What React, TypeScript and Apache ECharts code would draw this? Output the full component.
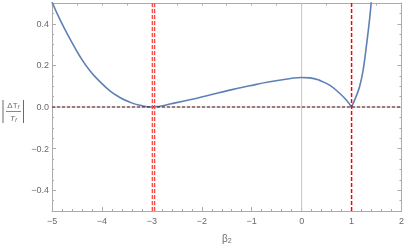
import React, { useEffect, useRef } from "react";
import * as echarts from "echarts";

// β2 sample positions and |ΔT_f / T_f| values
const betaVals = [-5.0, -4.84, -4.64, -4.44, -4.24, -4.04, -3.84, -3.64, -3.44, -3.24, -3.0, -2.84, -2.64, -2.24, -1.84, -1.44, -1.04, -0.64, -0.24, 0.0, 0.16, 0.36, 0.56, 0.76, 0.89, 1.0, 1.09, 1.16, 1.23, 1.29, 1.36, 1.4];
const ratioVals = [0.505, 0.42, 0.328, 0.243, 0.174, 0.122, 0.078, 0.046, 0.023, 0.008, 0.0, 0.004, 0.014, 0.035, 0.058, 0.081, 0.102, 0.121, 0.136, 0.142, 0.14, 0.128, 0.105, 0.066, 0.035, 0.0, 0.05, 0.097, 0.175, 0.28, 0.42, 0.52];
const cuspBeta = 1.0;
const redLineBetas = [-2.99, -2.945, 1.0];
const xTicks = [-5, -4, -3, -2, -1, 0, 1, 2];
const yTicks = [-0.4, -0.2, 0.0, 0.2, 0.4];

const fmt = (v: number, d: number) => v.toFixed(d).replace("-", "\u2212");

export default function App() {
  const ref = useRef<HTMLDivElement>(null);
  useEffect(() => {
    if (!ref.current) return;
    const chart = echarts.init(ref.current, null, { renderer: "svg" });
    const frame = { color: "#ababab", width: 1 };
    const font = "Liberation Sans, Arial, sans-serif";
    const labelStyle = { color: "#6a6a6a", fontSize: 9, fontFamily: font };
    const pts = betaVals.map((b, i) => [b, ratioVals[i]]);
    const left = pts.filter((p) => p[0] <= cuspBeta);
    const right = pts.filter((p) => p[0] >= cuspBeta);
    const xMin = -5, xMax = 2, yMin = -0.5, yMax = 0.5;
    const series: any[] = [
      { type: "line", data: [[0, yMin], [0, yMax]], symbol: "none", lineStyle: { color: "#c4c4c4", width: 1 }, silent: true, z: 1 },
      { type: "line", data: [[xMin, 0], [xMax, 0]], symbol: "none", lineStyle: { color: "#c4c4c4", width: 1 }, silent: true, z: 1 },
      { type: "line", data: left, symbol: "none", smooth: 0.5, lineStyle: { color: "#5E81B5", width: 1.6 }, z: 3 },
      { type: "line", data: right, symbol: "none", smooth: 0.4, lineStyle: { color: "#5E81B5", width: 1.6 }, z: 3 },
      { type: "line", data: [[xMin, 0], [xMax, 0]], symbol: "none", lineStyle: { color: "#5a1414", width: 1.2, type: [3, 2] }, z: 4 },
      ...redLineBetas.map((b, i) => ({
        type: "line",
        data: [[b, yMin], [b, yMax]],
        symbol: "none",
        lineStyle: { color: i < 2 ? "#ff4a4a" : "#ff0000", width: i < 2 ? 1.4 : 1.5, type: [4, 2] },
        z: 5,
      })),
    ];
    chart.setOption({
      animation: false,
      grid: { left: 52, right: 5, top: 3, bottom: 30, containLabel: false },
      xAxis: [
        {
          type: "value", position: "bottom", min: xMin, max: xMax, interval: 1,
          axisLine: { show: true, onZero: false, lineStyle: frame },
          axisTick: { show: true, inside: true, length: 4, lineStyle: frame },
          minorTick: { show: true, splitNumber: 5, length: 2, lineStyle: frame },
          axisLabel: { ...labelStyle, margin: 5, formatter: (v: number) => (xTicks.includes(v) ? fmt(v, 0) : "") },
          splitLine: { show: false },
          name: "{b|β}{s|2}", nameLocation: "middle", nameGap: 22,
          nameTextStyle: { rich: { b: { fontSize: 10, color: "#6a6a6a", fontFamily: font }, s: { fontSize: 7, color: "#6a6a6a", verticalAlign: "bottom", padding: [4, 0, 0, 0], fontFamily: font } } },
        },
        {
          type: "value", position: "top", min: xMin, max: xMax, interval: 0.5,
          axisLine: { show: true, onZero: false, lineStyle: frame },
          axisTick: { show: true, inside: true, length: 2.5, lineStyle: frame },
          axisLabel: { show: false }, splitLine: { show: false },
        },
      ],
      yAxis: [
        {
          type: "value", position: "left", min: yMin, max: yMax, interval: 0.05,
          axisLine: { show: true, onZero: false, lineStyle: frame },
          axisTick: { show: true, inside: true, length: 2, lineStyle: frame },
          axisLabel: { show: false }, splitLine: { show: false },
        },
        {
          type: "value", position: "left", min: yMin, max: yMax,
          axisLine: { show: false, onZero: false },
          axisTick: { show: true, inside: true, length: 4, lineStyle: frame, customValues: yTicks },
          axisLabel: { ...labelStyle, margin: 3, customValues: yTicks, formatter: (v: number) => fmt(v, 1) },
          splitLine: { show: false },
        },
        {
          type: "value", position: "right", min: yMin, max: yMax, interval: 0.05,
          axisLine: { show: true, onZero: false, lineStyle: frame },
          axisTick: { show: true, inside: true, length: 2, lineStyle: frame },
          axisLabel: { show: false }, splitLine: { show: false },
        },
        {
          type: "value", position: "right", min: yMin, max: yMax,
          axisLine: { show: false, onZero: false },
          axisTick: { show: true, inside: true, length: 4, lineStyle: frame, customValues: yTicks },
          axisLabel: { show: false }, splitLine: { show: false },
        },
      ],
      series,
      graphic: [
        { type: "line", shape: { x1: 3, y1: 100, x2: 3, y2: 123 }, style: { stroke: "#6a6a6a", lineWidth: 1 } },
        { type: "line", shape: { x1: 23.5, y1: 100, x2: 23.5, y2: 123 }, style: { stroke: "#6a6a6a", lineWidth: 1 } },
        { type: "line", shape: { x1: 6, y1: 111.5, x2: 21, y2: 111.5 }, style: { stroke: "#6a6a6a", lineWidth: 0.8 } },
        {
          type: "text", x: 13.3, y: 105,
          style: {
            text: "{a|ΔT}{s|f}", align: "center", verticalAlign: "middle",
            rich: {
              a: { fontSize: 8, fill: "#6a6a6a", fontFamily: font },
              s: { fontSize: 6, fill: "#6a6a6a", fontStyle: "italic", padding: [3, 0, 0, 0], fontFamily: font },
            },
          },
        },
        {
          type: "text", x: 13.3, y: 118.5,
          style: {
            text: "{a|T}{s|f}", align: "center", verticalAlign: "middle",
            rich: {
              a: { fontSize: 8, fill: "#6a6a6a", fontStyle: "italic", fontFamily: font },
              s: { fontSize: 6, fill: "#6a6a6a", fontStyle: "italic", padding: [3, 0, 0, 0], fontFamily: font },
            },
          },
        },
      ],
    });
    return () => chart.dispose();
  }, []);
  return <div ref={ref} style={{ position: "fixed", left: 0, top: 0, width: 407, height: 249 }} />;
}
